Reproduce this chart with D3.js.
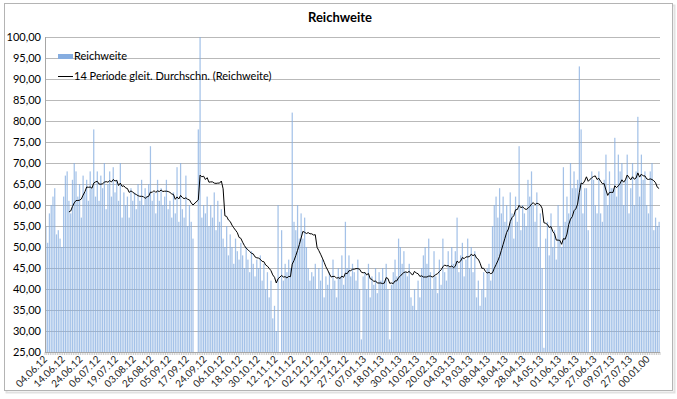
<!DOCTYPE html>
<html>
<head>
<meta charset="utf-8">
<script src="https://cdn.jsdelivr.net/npm/d3@7/dist/d3.min.js"></script>
<style>
  body { margin: 0; background: #fff; }
  text { font-family: Lato, "Liberation Sans", sans-serif; fill: #000; }
</style>
</head>
<body>
<svg id="chart" width="677" height="399"></svg>
<script>
// Reichweite, one value per category (null = empty cell)
const reichweite = [
  55, 51, 58, 60, 62, 64, 53, 54, 52, 50,
  62, 67, 68, 61, 58, 66, 70, 68, 62, 65,
  57, 67, 63, 66, 61, 68, 64, 78, 62, 68,
  61, 67, 64, 70, 59, 65, 68, 62, 69, 63,
  66, 61, 70, 57, 63, 60, 62, 57, 64, 61,
  63, 59, 65, 61, 66, 60, 64, 62, 65, 74,
  61, 63, 58, 66, 61, 64, 60, 62, 66, 59,
  61, 57, 63, 58, 69, 56, 70, 59, 57, 67,
  55, 60, 56, 52, null, null, 78, 140, 57, 60,
  58, 62, 55, 60, 57, 63, 54, 61, 56, 59,
  52, 50, 55, 48, 53, 50, 46, 52, 49, 47,
  51, 48, 45, 50, 47, 44, 49, 46, 43, 47,
  45, 48, 42, 46, 40, 44, 38, 42, 33, 36,
  30, 60, null, 54, 42, 46, 44, 47, 45, 82,
  56, 54, 60, 52, 58, 52, 57, 50, 45, 42,
  44, 43, 46, 40, 45, 42, 47, 38, 43, 41,
  44, 40, 47, 42, 38, 45, 43, 48, 41, 56,
  45, 48, 43, 46, 44, 42, 47, 40, 28, 43,
  44, 40, 46, 38, 43, 41, 45, 39, 44, 42,
  45, 42, 46, 40, 28, 41, 44, 47, 43, 52,
  50, 46, 49, 44, 43, 46, 38, 36, 40, 35,
  42, 38, 45, 48, 50, 46, 52, 44, 40, 49,
  43, 39, 47, 41, 52, 44, 42, 49, 45, 50,
  46, 49, 57, 44, 48, 51, 43, 47, 52, 45,
  50, 44, 49, 38, 42, 36, 40, 44, 38, 45,
  46, 42, 55, 60, 62, 57, 64, 58, 62, 56,
  60, 55, 63, 58, 52, 62, 56, 74, 54, 60,
  58, 55, 66, 62, 68, 60, 56, 63, 50, 58,
  45, 26, 52, 56, 48, 58, 50, 54, 47, 60,
  55, 50, 69, 56, 62, 58, 70, 64, 68, 64,
  66, 93, 78, 58, 64, 64, 54, null, 68, 66,
  60, 58, 68, 58, 56, 66, 72, 60, 68, 64,
  64, 76, 62, 72, 68, 70, 60, 66, 72, 58,
  64, 70, 60, 68, 81, 62, 72, 66, 68, 60,
  58, 68, 70, 54, 57, 55, 56
];

// category labels, one every 10 categories
const datumLabels = [
  "04.06.12", "14.06.12", "24.06.12", "06.07.12", "19.07.12", "03.08.12",
  "26.08.12", "05.09.12", "17.09.12", "24.09.12", "06.10.12", "18.10.12",
  "30.10.12", "12.11.12", "21.11.12", "02.12.12", "12.12.12", "27.12.12",
  "07.01.13", "18.01.13", "30.01.13", "10.02.13", "20.02.13", "04.03.13",
  "19.03.13", "08.04.13", "18.04.13", "28.04.13", "14.05.13", "01.06.13",
  "13.06.13", "27.06.13", "09.07.13", "27.07.13", "00.01.00"
];
const labelStep = 10;

const yTicks = [25, 30, 35, 40, 45, 50, 55, 60, 65, 70, 75, 80, 85, 90, 95, 100];
const PERIODE = 14;

const svg = d3.select("#chart");
const pLeft = 45, pRight = 660, pTop = 37, pBottom = 352;

const x = d3.scaleBand()
  .domain(d3.range(reichweite.length))
  .range([pLeft, pRight])
  .paddingInner(0.3)
  .paddingOuter(0.15);

const y = d3.scaleLinear().domain([25, 100]).range([pBottom, pTop]);

const fmt = v => d3.format(".2f")(v).replace(".", ",");

// frame
svg.append("rect")
  .attr("x", 6.5).attr("y", 5.5).attr("width", 668).attr("height", 387)
  .attr("fill", "none").attr("stroke", "#e2e2e2").attr("stroke-width", 2);
svg.append("rect")
  .attr("x", 4.5).attr("y", 3.5).attr("width", 668).attr("height", 387)
  .attr("fill", "#fff").attr("stroke", "#b4b4b4");

svg.append("text")
  .attr("x", 340).attr("y", 22)
  .attr("text-anchor", "middle")
  .style("font-size", "13px").style("font-weight", "bold")
  .text("Reichweite");

// gridlines
svg.append("g")
  .selectAll("line")
  .data(yTicks)
  .enter().append("line")
  .attr("x1", pLeft).attr("x2", pRight)
  .attr("y1", d => Math.round(y(d)) + 0.5).attr("y2", d => Math.round(y(d)) + 0.5)
  .attr("stroke", "#b9b9b9");

svg.append("g")
  .selectAll("text")
  .data(yTicks)
  .enter().append("text")
  .attr("x", 41).attr("y", d => y(d) + 4)
  .attr("text-anchor", "end")
  .style("font-size", "11px")
  .text(fmt);

svg.append("defs").append("clipPath").attr("id", "plot")
  .append("rect").attr("x", pLeft).attr("y", pTop).attr("width", pRight - pLeft).attr("height", pBottom - pTop);

const bars = reichweite.map((v, i) => ({ i: i, v: v })).filter(d => d.v != null && d.v > 25);

svg.append("g")
  .attr("clip-path", "url(#plot)")
  .selectAll("rect")
  .data(bars)
  .enter().append("rect")
  .attr("x", d => x(d.i))
  .attr("width", x.bandwidth())
  .attr("y", d => y(Math.min(d.v, 100)))
  .attr("height", d => pBottom - y(Math.min(d.v, 100)))
  .attr("fill", "#86ade0")
  .attr("fill-opacity", 0.75);

// axes lines
svg.append("line")
  .attr("x1", pLeft + 0.5).attr("x2", pLeft + 0.5).attr("y1", pTop).attr("y2", pBottom)
  .attr("stroke", "#a6a6a6");
svg.append("line")
  .attr("x1", pLeft).attr("x2", pRight).attr("y1", pBottom + 0.5).attr("y2", pBottom + 0.5)
  .attr("stroke", "#a6a6a6");

svg.append("g")
  .selectAll("line")
  .data(d3.range(reichweite.length + 1))
  .enter().append("line")
  .attr("x1", d => pLeft + d * x.step()).attr("x2", d => pLeft + d * x.step())
  .attr("y1", pBottom).attr("y2", pBottom + 3)
  .attr("stroke", "#a6a6a6").attr("stroke-width", 0.6);

svg.append("g")
  .selectAll("text")
  .data(datumLabels)
  .enter().append("text")
  .attr("transform", (d, k) => "translate(" + (x(k * labelStep) + x.bandwidth() / 2 + 2) + "," + (pBottom + 8) + ") rotate(-45)")
  .attr("text-anchor", "end")
  .style("font-size", "10px")
  .style("fill", "#222")
  .text(d => d);

// moving average over the last 14 non-empty values
const gleit = [];
const buf = [];
reichweite.forEach((v, i) => {
  if (v == null) return;
  buf.push(v);
  if (buf.length >= PERIODE) gleit.push({ i: i, v: d3.mean(buf.slice(-PERIODE)) });
});

svg.append("path")
  .datum(gleit)
  .attr("clip-path", "url(#plot)")
  .attr("fill", "none")
  .attr("stroke", "#000")
  .attr("stroke-width", 1)
  .attr("d", d3.line().x(d => x(d.i) + x.bandwidth() / 2).y(d => y(d.v)));

// legend
const lg = svg.append("g");
lg.append("rect").attr("x", 58).attr("y", 54).attr("width", 15).attr("height", 5).attr("fill", "#86ade0");
lg.append("text").attr("x", 74).attr("y", 60).style("font-size", "11px").text("Reichweite");
lg.append("line").attr("x1", 58).attr("x2", 73).attr("y1", 76.5).attr("y2", 76.5).attr("stroke", "#000");
lg.append("text").attr("x", 74).attr("y", 80).style("font-size", "11px").text("14 Periode gleit. Durchschn. (Reichweite)");
</script>
</body>
</html>
